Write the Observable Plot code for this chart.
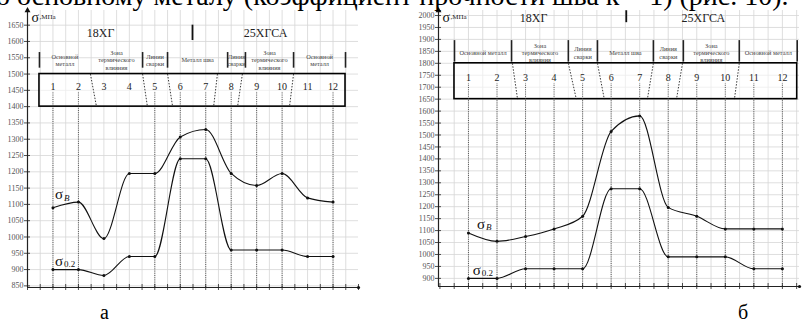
<!DOCTYPE html>
<html><head><meta charset="utf-8">
<script src="https://cdn.jsdelivr.net/npm/d3@7"></script>
<script src="https://cdn.jsdelivr.net/npm/@observablehq/plot@0.6"></script>
<style>
body{margin:0;background:#fff;}
#wrap{position:relative;width:803px;height:325px;overflow:hidden;background:#fff;font-family:"Liberation Serif",serif;}
#wrap svg{position:absolute;top:0;}
.lbl{position:absolute;font-family:"Liberation Serif",serif;color:#000;white-space:nowrap;z-index:5;}
</style></head>
<body><div id="wrap"></div>
<script>
// ---------- data ----------
const cols = [1,2,3,4,5,6,7,8,9,10,11,12];
const sigmaB_a  = [1090,1107,995,1195,1195,1307,1330,1195,1158,1195,1120,1107];
const sigma02_a = [900,900,882,940,940,1240,1240,960,960,960,940,940];
const sigmaB_b  = [1090,1055,1075,1107,1160,1515,1580,1197,1160,1107,1107,1107];
const sigma02_b = [900,900,940,940,940,1275,1275,990,990,990,940,940];
const ticksA = d3.range(850, 1651, 50);
const ticksB = d3.range(900, 2001, 50);
const steels = ["18ХГ", "25ХГСА"];
const zonesA = ["Основной\nметалл","Зона\nтермического\nвлияния","Линии\nсварки","Металл шва","Линия\nсварки","Зона\nтермического\nвлияния","Основной\nметалл"];
const zonesB = ["Основной металл","Зона\nтермического\nвлияния","Линия\nсварки","Металл шва","Линия\nсварки","Зона\nтермического\nвлияния","Основной металл"];
// zone boundaries (column units)
const boundsA = [0.47, 2.47, 4.52, 5.5, 7.86, 8.56, 10.45, 12.49];
const barsA   = [0.47, 4.52, 5.5, 7.86, 8.56, 10.45, 12.49];
const boundsB = [0.51, 2.51, 4.5, 5.52, 7.48, 8.53, 10.49, 12.52];
// slanted dividers [top, bottom] in column units
const slantA = [[2.47,2.71],[4.52,4.71],[5.5,5.7],[7.46,7.31],[8.44,8.25],[10.45,10.29]];
const slantB = [[2.54,2.72],[4.5,4.78],[5.52,5.76],[7.48,7.27],[8.5,8.29],[10.49,10.32]];
const dottedA = [1,2,5,6,7,8,9,10,12];
const dottedB = cols;
const topText = "о основному металу (коэффициент прочности шва к = 1) (рис. 10).";

const wrap = document.getElementById("wrap");
const F = "Liberation Serif, serif";
const grid = "#d6d6d6";

function panel(o){
  const gx = d3.range(0, o.xmax + 0.001, 0.5).filter(v => v >= o.x0);
  const rows = cols.map((c,i) => ({c, b: o.sB[i], p: o.s02[i]}));
  const zoneData = o.zones.map((z,i) => ({z, x: (o.bounds[i] + o.bounds[i+1]) / 2}));
  const uy = (o.y1 - o.y0) / (o.h - o.mt - o.mb); // data units per px
  const ux = (o.xmax - o.x0) / (o.w - o.ml - o.mr);
  return Plot.plot({
    width: o.w, height: o.h, marginLeft: o.ml, marginRight: o.mr, marginTop: o.mt, marginBottom: o.mb,
    x: {type: "linear", domain: [o.x0, o.xmax], axis: null},
    y: {type: "linear", domain: [o.y0, o.y1], axis: null},
    style: {fontFamily: F, background: "transparent", overflow: "visible"},
    marks: [
      Plot.ruleX(d3.range(0.5, o.xmax, 0.5), {x: d => d, y1: o.y0, y2: o.y1, stroke: grid, strokeWidth: 0.8}),
      Plot.ruleY(o.ticks, {y: d => d, x1: o.x0, x2: o.xmax, stroke: grid, strokeWidth: 0.8}),
      // table box
      Plot.rect([0], {x1: o.box[0], x2: o.box[1], y1: o.box[2], y2: o.box[3], fill: "white", fillOpacity: 0.55, stroke: "black", strokeWidth: 1.6}),
      Plot.text(cols, {x: d => d, y: o.numY, text: d => String(d), fontSize: o.numFs, fill: "#222"}),
      Plot.link(o.slant, {x1: d => d[0], x2: d => d[1], y1: o.box[3], y2: o.box[2], stroke: "#222", strokeDasharray: "1.5,1.5", strokeWidth: 0.9}),
      // dotted column lines
      Plot.ruleX(o.dotted, {x: d => d, y1: o.y0, y2: o.dotTop, stroke: "#333", strokeDasharray: "1,1.2", strokeWidth: 0.8}),
      // zone bars
      Plot.ruleX(o.bars, {x: d => d, y1: o.barY[0], y2: o.barY[1], stroke: "#222", strokeWidth: 1.6}),
      Plot.text(zoneData, {x: "x", y: o.zoneY, text: "z", fontSize: o.zoneFs, fill: "#444", lineHeight: 1.15}),
      // steel names
      Plot.text(steels, {x: (d,i) => o.steelX[i], y: o.steelY, text: d => d, fontSize: o.steelFs, fill: "#222"}),
      Plot.ruleX([o.sep], {x: d => d, y1: o.sepY[0], y2: o.sepY[1], stroke: "#111", strokeWidth: 1.8}),
      // axes
      Plot.ruleY([o.y0], {x1: o.x0, x2: o.xmax, stroke: "#222", strokeWidth: 1.2}),
      Plot.ruleX([o.x0], {y1: o.y0, y2: o.y1, stroke: "#222", strokeWidth: 1.2}),
      Plot.ruleX(gx, {x: d => d, y1: o.y0 - 3*uy, y2: o.y0 + 3*uy, stroke: "#222", strokeWidth: 0.8}),
      Plot.ruleY(o.ticks, {y: d => d, x1: o.x0 - 3*ux, x2: o.x0 + 3*ux, stroke: "#222", strokeWidth: 0.8}),
      Plot.text(o.ticks, {x: o.x0, y: d => d, text: d => String(d), textAnchor: "end", dx: -4, fontSize: 8, fill: "#555"}),
      Plot.dot([o.y1], {x: o.x0, y: d => d, symbol: "triangle", r: 2.2, fill: "#111", stroke: "none"}),
      Plot.dot([o.y0], {x: o.xmax, y: d => d, r: 1.6, fill: "#111", stroke: "none"}),
      // curves
      Plot.line(rows, {x: "c", y: "b", curve: "monotone-x", stroke: "#111", strokeWidth: 1.1}),
      Plot.line(rows, {x: "c", y: "p", curve: "monotone-x", stroke: "#111", strokeWidth: 1.1}),
      Plot.dot(rows, {x: "c", y: "b", r: 1.5, fill: "#111", stroke: "none"}),
      Plot.dot(rows, {x: "c", y: "p", r: 1.5, fill: "#111", stroke: "none"}),
      // curve labels
      Plot.text(["σ"], {x: o.lblB[0], y: o.lblB[1], text: d => d, fontSize: 15, textAnchor: "start", fill: "#111"}),
      Plot.text(["B"], {x: o.lblB[0], y: o.lblB[1], text: d => d, fontSize: 9, fontStyle: "italic", textAnchor: "start", dx: 9, dy: 3, fill: "#111"}),
      Plot.text(["σ"], {x: o.lblP[0], y: o.lblP[1], text: d => d, fontSize: 15, textAnchor: "start", fill: "#111"}),
      Plot.text(["0.2"], {x: o.lblP[0], y: o.lblP[1], text: d => d, fontSize: 9, textAnchor: "start", dx: 9, dy: 3, fill: "#111"}),
      // axis title
      Plot.text(["σ"], {frameAnchor: "top-left", text: d => d, fontSize: 14, textAnchor: "start", dx: 4, dy: o.titleDy, fill: "#111"}),
      Plot.text([",МПа"], {frameAnchor: "top-left", text: d => d, fontSize: 7, textAnchor: "start", dx: 12, dy: o.titleDy + 2, fill: "#222"})
    ]
  });
}

const svgA = panel({
  w: 370, h: 300, ml: 27, mr: 12, mt: 10, mb: 13, x0: 0, xmax: 13, y0: 845, y1: 1695,
  sB: sigmaB_a, s02: sigma02_a, ticks: ticksA,
  box: [0.47, 12.49, 1400, 1500], numY: 1462, numFs: 10,
  slant: slantA, dotted: dottedA, dotTop: 1445,
  bars: barsA, bounds: boundsA, barY: [1518, 1566], zones: zonesA, zoneY: 1543, zoneFs: 6.3,
  steelX: [2.87, 9.35], steelY: 1627, steelFs: 12, sep: 6.48, sepY: [1603, 1650],
  lblB: [1.08, 1130], lblP: [1.08, 926], titleDy: 2
});
svgA.style.left = "0px";
wrap.appendChild(svgA);

const svgB = panel({
  w: 403, h: 300, ml: 38, mr: 4, mt: 10, mb: 14, x0: -0.05, xmax: 12.6, y0: 866, y1: 2021,
  sB: sigmaB_b, s02: sigma02_b, ticks: ticksB,
  box: [0.51, 12.52, 1650, 1800], numY: 1740, numFs: 10,
  slant: slantB, dotted: dottedB, dotTop: 1715,
  bars: boundsB, bounds: boundsB, barY: [1805, 1895], zones: zonesB, zoneY: 1845, zoneFs: 6.3,
  steelX: [3.28, 9.23], steelY: 1990, steelFs: 12, sep: 6.53, sepY: [1970, 2020],
  lblB: [1.3, 1125], lblP: [1.15, 935], titleDy: 2
});
svgB.style.left = "400px";
wrap.appendChild(svgB);

function addLbl(txt, left, top, size){
  const d = document.createElement("div");
  d.className = "lbl"; d.textContent = txt;
  d.style.left = left + "px"; d.style.top = top + "px"; d.style.fontSize = size + "px"; d.style.lineHeight = "1";
  wrap.appendChild(d);
  return d;
}
const tt = addLbl(topText, -4, -18, 28);
addLbl("а", 100, 302, 20);
addLbl("б", 738, 302, 20);
</script></body></html>
